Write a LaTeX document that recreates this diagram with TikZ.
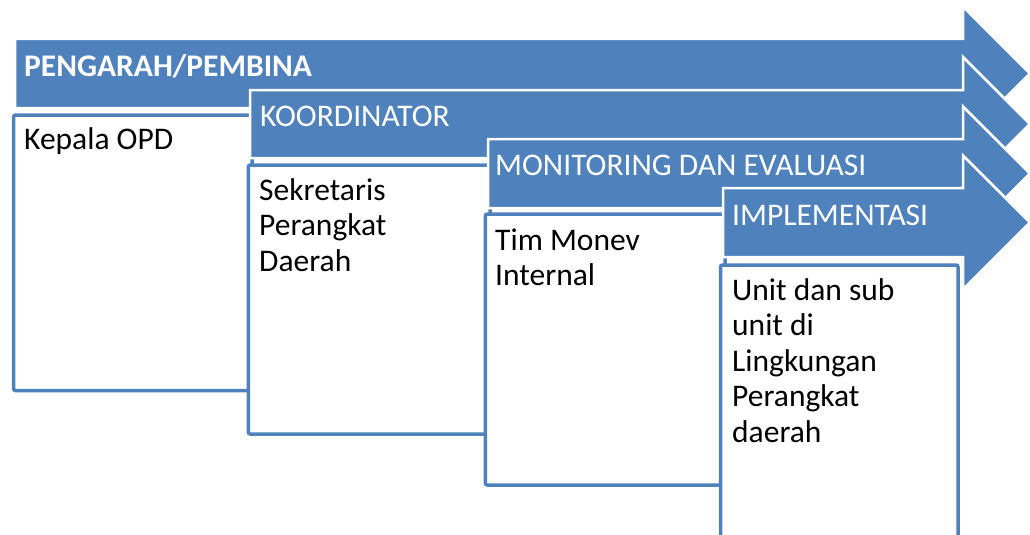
\documentclass[tikz,border=0pt]{standalone}
\usepackage{fontspec}
\setmainfont{Carlito}
\definecolor{ablue}{HTML}{4F81BD}
\begin{document}
\begin{tikzpicture}[x=1pt,y=-1pt,
  arrowshape/.style={fill=ablue, draw=white, line width=2.5pt, line join=miter},
  boxshape/.style={fill=white, draw=ablue, line width=3.5pt, rounded corners=2pt},
  lbl/.style={anchor=base west, inner sep=0pt, text=white, font=\fontsize{31.5}{35.5}\selectfont},
  body/.style={anchor=base west, inner sep=0pt, text=black, font=\fontsize{31.5}{35.5}\selectfont}]
\useasboundingbox (0,0) rectangle (1030,535);
\clip (0,0) rectangle (1030,535);
% arrow 1
\draw[arrowshape] (15,39) -- (963,39) -- (963,6.5) -- (1030,73.5) -- (963,140.5) -- (963,108) -- (15,108) -- cycle;
\node[lbl, font=\fontsize{31.5}{35.5}\selectfont\bfseries] (l1) at (24,77) {PENGARAH/PEMBINA};
\draw[boxshape] (13.7,115) rectangle (252,390.7);
\node[body] (b1) at (24,149) {Kepala OPD};
% arrow 2
\draw[arrowshape] (250,90) -- (963,90) -- (963,57) -- (1030,124) -- (963,191) -- (963,158) -- (250,158) -- cycle;
\node[lbl] (l2) at (260,126) {KOORDINATOR};
\draw[boxshape] (248.3,165) rectangle (490,434);
\node[body] (b2) at (259,200) {\vtop{\hbox{Sekretaris}\hbox{Perangkat}\hbox{Daerah}}};
% arrow 3
\draw[arrowshape] (488,139) -- (963,139) -- (963,106.5) -- (1030,173.5) -- (963,240.5) -- (963,208) -- (488,208) -- cycle;
\node[lbl] (l3) at (495,175) {MONITORING DAN EVALUASI};
\draw[boxshape] (485.3,214) rectangle (725,485);
\node[body] (b3) at (495,250) {\vtop{\hbox{Tim Monev}\hbox{Internal}}};
% arrow 4
\draw[arrowshape] (723,188) -- (963,188) -- (963,155.5) -- (1030,222.5) -- (963,289.5) -- (963,257) -- (723,257) -- cycle;
\node[lbl] (l4) at (732,225) {IMPLEMENTASI};
\draw[boxshape] (720.5,265) rectangle (958,560);
\node[body] (b4) at (732,300) {\vtop{\hbox{Unit dan sub}\hbox{unit di}\hbox{Lingkungan}\hbox{Perangkat}\hbox{daerah}}};
\end{tikzpicture}
\end{document}
